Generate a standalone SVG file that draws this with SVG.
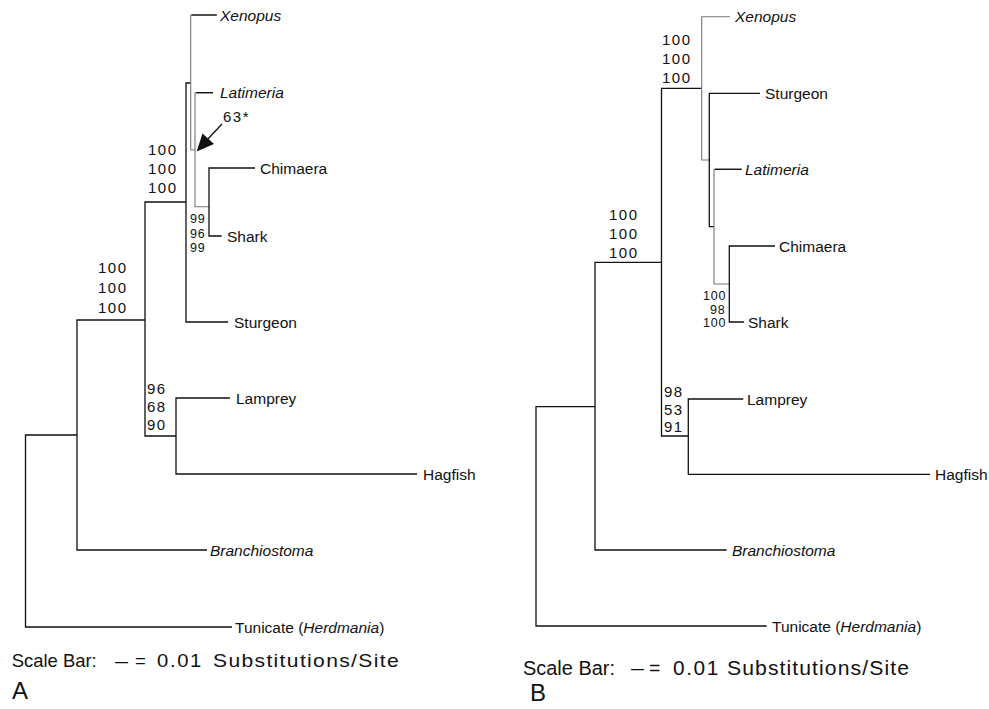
<svg xmlns="http://www.w3.org/2000/svg" width="989" height="709" viewBox="0 0 989 709">
<style>
.ln{fill:none;stroke:#111;stroke-width:1.3}
.lg{fill:none;stroke:#777;stroke-width:1.1}
.tx{font-family:"Liberation Sans",Arial,sans-serif;font-size:15.5px;fill:#111}
.it{font-style:italic}
.bs{font-family:"Liberation Sans",Arial,sans-serif;font-size:15px;fill:#111;letter-spacing:1.5px}
.bsm{font-family:"Liberation Sans",Arial,sans-serif;font-size:12.5px;fill:#111;letter-spacing:0.8px}
.sc{font-family:"Liberation Sans",Arial,sans-serif;font-size:18.5px;fill:#111}
.sb{font-family:"Liberation Sans",Arial,sans-serif;font-size:19.5px;fill:#111}
.pl{font-family:"Liberation Sans",Arial,sans-serif;font-size:24px;fill:#111}
</style>
<rect width="989" height="709" fill="#fff"/>
<g id="connectors">
  <!-- Panel A -->
  <path class="ln" d="M77,435 H25.5 V627 H232"/>
  <path class="ln" d="M145,320 H77 V550 H207"/>
  <path class="ln" d="M186,202 H145 V436 H176"/>
  <path class="ln" d="M230,398 H176 V474 H417"/>
  <path class="ln" d="M190.7,83 H186 V322 H228"/>
  <path class="lg" d="M216.7,15 H190.7 V150 H195"/>
  <path class="ln" d="M216.7,15 H191.5"/>
  <path class="lg" d="M213,92.7 H195 V206.7 H209"/>
  <path class="ln" d="M213,92.7 H196"/>
  <path class="ln" d="M255,168 H209 V236 H221.7"/>
  <line class="ln" x1="222" y1="124" x2="206" y2="141" stroke-width="1.7"/>
  <polygon points="196.7,151.5 202.5,133.5 214,144" fill="#111"/>
  <!-- Panel B -->
  <path class="ln" d="M595,406.7 H536 V626 H766.7"/>
  <path class="ln" d="M661.5,262.3 H595 V550 H726.7"/>
  <path class="ln" d="M701.7,88.3 H661.5 V436 H688.3"/>
  <path class="ln" d="M743.3,399 H688.3 V474.3 H930"/>
  <path class="lg" d="M730,16.7 H701.7 V160 H709.3"/>
  <path class="ln" d="M760,93.3 H709.3 V226.7 H714"/>
  <path class="lg" d="M741.7,169.3 H714 V284 H729.3"/>
  <path class="ln" d="M741.7,169.3 H715"/>
  <path class="ln" d="M775,246 H729.3 V322 H744"/>
</g>
<!-- Panel A taxa -->
<g id="A-xenopus"><text class="tx it" x="220" y="20.5">Xenopus</text></g>
<g id="A-latimeria"><text class="tx it" x="220" y="98">Latimeria</text></g>
<g id="A-chimaera"><text class="tx" x="260" y="173.5">Chimaera</text></g>
<g id="A-shark"><text class="tx" x="227" y="241.5">Shark</text></g>
<g id="A-sturgeon"><text class="tx" x="234" y="327.5">Sturgeon</text></g>
<g id="A-lamprey"><text class="tx" x="236" y="403.5">Lamprey</text></g>
<g id="A-hagfish"><text class="tx" x="423" y="479.5">Hagfish</text></g>
<g id="A-branchiostoma"><text class="tx it" x="210" y="555.5">Branchiostoma</text></g>
<g id="A-tunicate"><text class="tx" x="235" y="632.5">Tunicate (<tspan class="it">Herdmania</tspan>)</text></g>
<!-- Panel A support values -->
<g id="A-node-63"><text class="bs" x="223" y="122">63*</text></g>
<g id="A-node-gnath"><text class="bs" x="148" y="155">100</text><text class="bs" x="148" y="174">100</text><text class="bs" x="148" y="193">100</text></g>
<g id="A-node-vert"><text class="bs" x="98" y="273">100</text><text class="bs" x="98" y="293">100</text><text class="bs" x="98" y="313">100</text></g>
<g id="A-node-cyclo"><text class="bs" x="147" y="394">96</text><text class="bs" x="147" y="412">68</text><text class="bs" x="147" y="430">90</text></g>
<g id="A-node-chond"><text class="bsm" x="190" y="223">99</text><text class="bsm" x="190" y="237.5">96</text><text class="bsm" x="190" y="252">99</text></g>
<!-- Panel A scale and label -->
<g id="A-scale">
  <text class="sc" x="11.7" y="667" textLength="85" lengthAdjust="spacingAndGlyphs">Scale Bar:</text>
  <text class="sc" x="115" y="667" textLength="13" lengthAdjust="spacingAndGlyphs">—</text>
  <text class="sc" x="135" y="667">=</text>
  <text class="sc" x="157" y="667" textLength="46" lengthAdjust="spacingAndGlyphs" style="letter-spacing:1.5px">0.01</text>
  <text class="sc" x="213" y="667" textLength="187" lengthAdjust="spacingAndGlyphs" style="letter-spacing:1.2px">Substitutions/Site</text>
</g>
<g id="A-label"><text class="pl" x="12" y="699">A</text></g>
<!-- Panel B taxa -->
<g id="B-xenopus"><text class="tx it" x="735" y="22">Xenopus</text></g>
<g id="B-sturgeon"><text class="tx" x="765" y="99">Sturgeon</text></g>
<g id="B-latimeria"><text class="tx it" x="745" y="175">Latimeria</text></g>
<g id="B-chimaera"><text class="tx" x="779" y="251.5">Chimaera</text></g>
<g id="B-shark"><text class="tx" x="748" y="327.5">Shark</text></g>
<g id="B-lamprey"><text class="tx" x="747" y="404.5">Lamprey</text></g>
<g id="B-hagfish"><text class="tx" x="935" y="480">Hagfish</text></g>
<g id="B-branchiostoma"><text class="tx it" x="732" y="555.5">Branchiostoma</text></g>
<g id="B-tunicate"><text class="tx" x="772" y="631.5">Tunicate (<tspan class="it">Herdmania</tspan>)</text></g>
<!-- Panel B support values -->
<g id="B-node-gnath"><text class="bs" x="662" y="45">100</text><text class="bs" x="662" y="64">100</text><text class="bs" x="662" y="83">100</text></g>
<g id="B-node-vert"><text class="bs" x="609" y="220">100</text><text class="bs" x="609" y="239">100</text><text class="bs" x="609" y="258">100</text></g>
<g id="B-node-cyclo"><text class="bs" x="664" y="397">98</text><text class="bs" x="664" y="414.5">53</text><text class="bs" x="664" y="432">91</text></g>
<g id="B-node-chond"><text class="bsm" x="703" y="300">100</text><text class="bsm" x="710" y="313.5">98</text><text class="bsm" x="703" y="326.5">100</text></g>
<!-- Panel B scale and label -->
<g id="B-scale">
  <text class="sb" x="631" y="675" textLength="13" lengthAdjust="spacingAndGlyphs">—</text>
  <text class="sb" x="523" y="675" textLength="92" lengthAdjust="spacingAndGlyphs">Scale Bar:</text>
  <text class="sb" x="649" y="675">=</text>
  <text class="sb" x="673" y="675" textLength="47" lengthAdjust="spacingAndGlyphs" style="letter-spacing:1.5px">0.01</text>
  <text class="sb" x="727" y="675" textLength="183" lengthAdjust="spacingAndGlyphs" style="letter-spacing:1px">Substitutions/Site</text>
</g>
<g id="B-label"><text class="pl" x="530" y="701">B</text></g>
</svg>
